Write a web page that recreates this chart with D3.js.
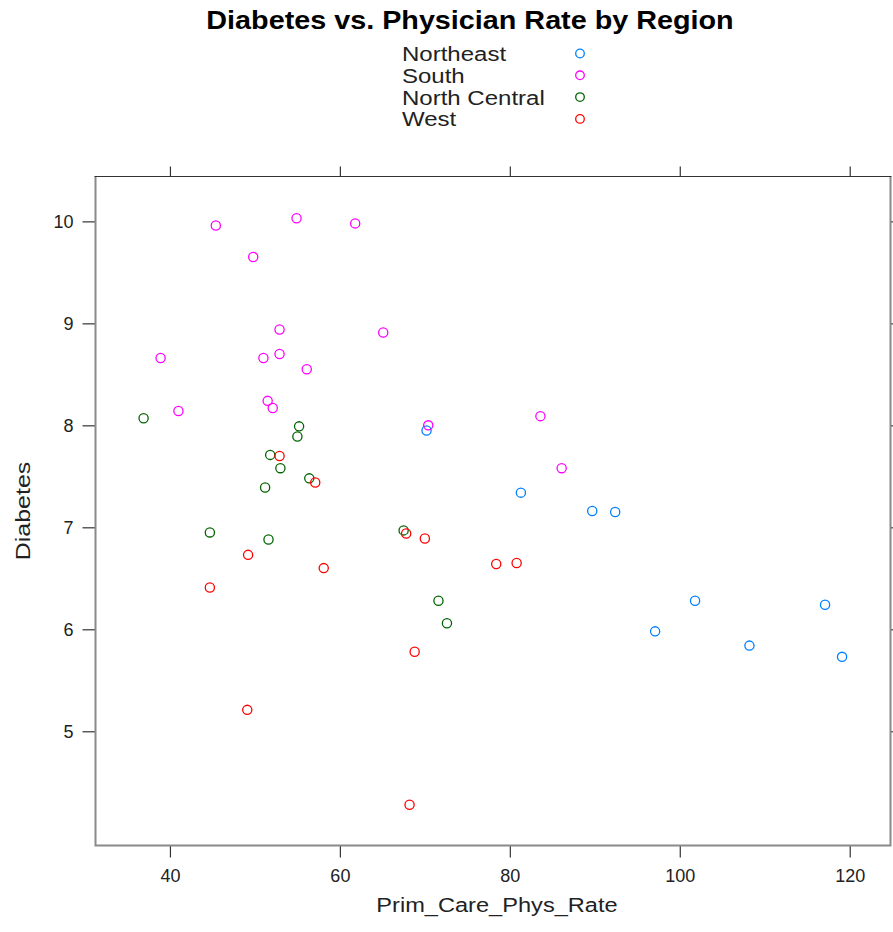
<!DOCTYPE html>
<html>
<head>
<meta charset="utf-8">
<script src="https://cdn.jsdelivr.net/npm/d3@7"></script>
<style>
  html, body { margin: 0; padding: 0; background: #fff; }
  svg { display: block; font-family: "Liberation Sans", Arial, Helvetica, sans-serif; }
</style>
</head>
<body>
<svg id="chart" width="893" height="932"></svg>
<script>
// Region groups, in legend order, with their symbol colours
const regions = ["Northeast", "South", "North Central", "West"];
const regionColors = ["#0080ff", "#ff00ff", "darkgreen", "#ff0000"];

// Primary care physician rate (x) and diabetes rate (y) per state, by region
const northeastRate = [70.2, 81.3, 89.7, 92.4, 97.1, 101.8, 108.2, 117.1, 119.1];
const northeastDiab = [7.95, 7.34, 7.16, 7.15, 5.98, 6.28, 5.84, 6.24, 5.73];

const southRate = [45.4, 54.9, 61.8, 49.8, 52.9, 65.1, 38.9, 51.0, 52.9, 56.1, 41.0, 51.5, 52.1, 70.4, 83.6, 86.1];
const southDiab = [9.96, 10.03, 9.98, 9.65, 8.94, 8.91, 8.66, 8.66, 8.70, 8.55, 8.14, 8.24, 8.17, 8.00, 8.09, 7.58];

const northCentralRate = [36.9, 55.2, 55.0, 51.8, 53.0, 56.4, 51.2, 44.7, 51.6, 67.5, 71.6, 72.6];
const northCentralDiab = [8.07, 7.99, 7.89, 7.71, 7.58, 7.48, 7.39, 6.95, 6.88, 6.97, 6.28, 6.06];

const westRate = [52.9, 57.1, 67.8, 70.0, 49.2, 58.1, 44.7, 78.4, 80.8, 68.8, 49.1, 68.2];
const westDiab = [7.70, 7.44, 6.94, 6.89, 6.73, 6.60, 6.41, 6.64, 6.65, 5.78, 5.21, 4.28];

// Tick values on each axis
const xTicks = [40, 60, 80, 100, 120];
const yTicks = [5, 6, 7, 8, 9, 10];

const seriesRates = [northeastRate, southRate, northCentralRate, westRate];
const seriesDiab = [northeastDiab, southDiab, northCentralDiab, westDiab];

const svg = d3.select("#chart");

// Widen a text element horizontally by factor k (the device font runs wide)
function widen(sel, k) {
  sel.each(function () {
    const w = this.getComputedTextLength();
    d3.select(this).attr("textLength", w * k).attr("lengthAdjust", "spacingAndGlyphs");
  });
  return sel;
}

// Panel box
const panel = { left: 95.5, right: 890.5, top: 176.5, bottom: 845.5 };

const x = d3.scaleLinear().domain([31.24, 124.8]).range([panel.left, panel.right]);
const y = d3.scaleLinear().domain([3.88, 10.44]).range([panel.bottom, panel.top]);

// Title
svg.append("text")
  .attr("x", 470).attr("y", 29)
  .attr("text-anchor", "middle")
  .attr("font-size", 25).attr("font-weight", "bold")
  .attr("fill", "#000")
  .text("Diabetes vs. Physician Rate by Region")
  .call(widen, 1.15);

// Legend
const legend = svg.append("g");
regions.forEach((name, i) => {
  const base = 61 + i * 21.8;
  legend.append("text")
    .attr("x", 402).attr("y", base)
    .attr("font-size", 20).attr("fill", "#222")
    .text(name)
    .call(widen, 1.2);
  legend.append("circle")
    .attr("cx", 580).attr("cy", base - 7.5)
    .attr("r", 4.3)
    .attr("fill", "none")
    .attr("stroke", regionColors[i])
    .attr("stroke-width", 1.3);
});

// Axes (ticks on all four sides, labels on left and bottom)
const tickColor = "#333";
const fontSize = 18;

const bottomAxis = d3.axisBottom(x).tickValues(xTicks).tickSize(12).tickPadding(12).tickFormat(d3.format("d"));
const topAxis = d3.axisTop(x).tickValues(xTicks).tickSize(10).tickFormat("");
const leftAxis = d3.axisLeft(y).tickValues(yTicks).tickSize(13).tickPadding(9).tickFormat(d3.format("d"));
const rightAxis = d3.axisRight(y).tickValues(yTicks).tickSize(10).tickFormat("");

function styleAxis(g) {
  g.select(".domain").remove();
  g.selectAll(".tick line").attr("stroke", tickColor).attr("stroke-width", 1.2);
  g.selectAll(".tick text").attr("fill", "#222").attr("font-size", fontSize)
    .attr("font-family", "'Liberation Sans', Arial, sans-serif");
}

svg.append("g").attr("transform", `translate(0,${panel.bottom})`).call(bottomAxis).call(styleAxis);
svg.append("g").attr("transform", `translate(0,${panel.top})`).call(topAxis).call(styleAxis);
svg.append("g").attr("transform", `translate(${panel.left},0)`).call(leftAxis).call(styleAxis);
svg.append("g").attr("transform", `translate(${panel.right},0)`).call(rightAxis).call(styleAxis);

// Panel border: thin dark top edge, heavier grey sides and bottom
svg.append("path")
  .attr("d", `M${panel.left},${panel.top}V${panel.bottom}H${panel.right}V${panel.top}`)
  .attr("fill", "none").attr("stroke", "#8a8a8a").attr("stroke-width", 2);
svg.append("line")
  .attr("x1", panel.left - 1).attr("x2", panel.right + 1)
  .attr("y1", panel.top).attr("y2", panel.top)
  .attr("stroke", "#333").attr("stroke-width", 1.2);

// Axis titles
svg.append("text")
  .attr("x", 497).attr("y", 912)
  .attr("text-anchor", "middle")
  .attr("font-size", 20).attr("fill", "#222")
  .text("Prim_Care_Phys_Rate")
  .call(widen, 1.18);
svg.append("text")
  .attr("transform", `translate(30,${(panel.top + panel.bottom) / 2}) rotate(-90)`)
  .attr("text-anchor", "middle")
  .attr("font-size", 20).attr("fill", "#222")
  .text("Diabetes")
  .call(widen, 1.25);

// Points, drawn in legend order
const pts = svg.append("g");
regions.forEach((name, i) => {
  const rows = seriesRates[i].map((r, j) => ({ rate: r, diab: seriesDiab[i][j] }));
  pts.selectAll(null)
    .data(rows)
    .enter().append("circle")
    .attr("cx", d => x(d.rate))
    .attr("cy", d => y(d.diab))
    .attr("r", 4.6)
    .attr("fill", "none")
    .attr("stroke", regionColors[i])
    .attr("stroke-width", 1.3);
});
</script>
</body>
</html>
